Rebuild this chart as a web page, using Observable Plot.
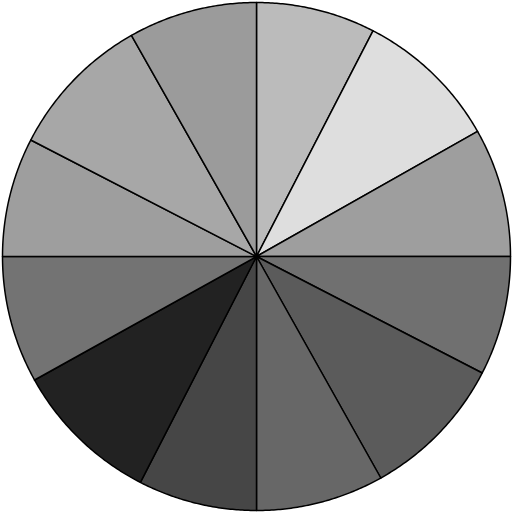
<!DOCTYPE html>
<html>
<head>
<meta charset="utf-8">
<script src="https://cdn.jsdelivr.net/npm/d3@7"></script>
<script src="https://cdn.jsdelivr.net/npm/@observablehq/plot@0.6"></script>
<style>
  html, body { margin: 0; padding: 0; background: #fff; }
</style>
</head>
<body>
<div id="chart"></div>
<script>
const labels = ["A","B","C","D","E","F","G","H","I","J","K","L"];
const values = [27.3, 33.2, 29.5, 27.3, 33.4, 29.3, 27.2, 33.7, 29.1, 27.3, 33.2, 29.5];
const colors = ["#bbbbbb","#dedede","#9e9e9e","#707070","#5b5b5b","#676767","#464646","#222222","#737373","#9e9e9e","#a7a7a7","#9b9b9b"];

const arcs = d3.pie().sort(null).value(d => d.value)(labels.map((l, i) => ({label: l, value: values[i], color: colors[i]})));
const pts = [];
for (const a of arcs) {
  const n = 60;
  pts.push({slice: a.data.label, color: a.data.color, x: 0, y: 0});
  for (let k = 0; k <= n; k++) {
    const t = a.startAngle + (a.endAngle - a.startAngle) * k / n;
    pts.push({slice: a.data.label, color: a.data.color, x: Math.sin(t), y: Math.cos(t)});
  }
  pts.push({slice: a.data.label, color: a.data.color, x: 0, y: 0});
}
const R = 254, C = 256;
const chart = Plot.plot({
  width: 512,
  height: 512,
  margin: 0,
  x: {domain: [-C / R, C / R], axis: null},
  y: {domain: [-C / R, C / R], axis: null},
  color: {type: "identity"},
  marks: [
    Plot.line(pts, {x: "x", y: "y", z: "slice", fill: "color", stroke: "#000", strokeWidth: 1.5, strokeLinejoin: "round", curve: "linear-closed"})
  ]
});
document.getElementById("chart").appendChild(chart);
</script>
</body>
</html>
